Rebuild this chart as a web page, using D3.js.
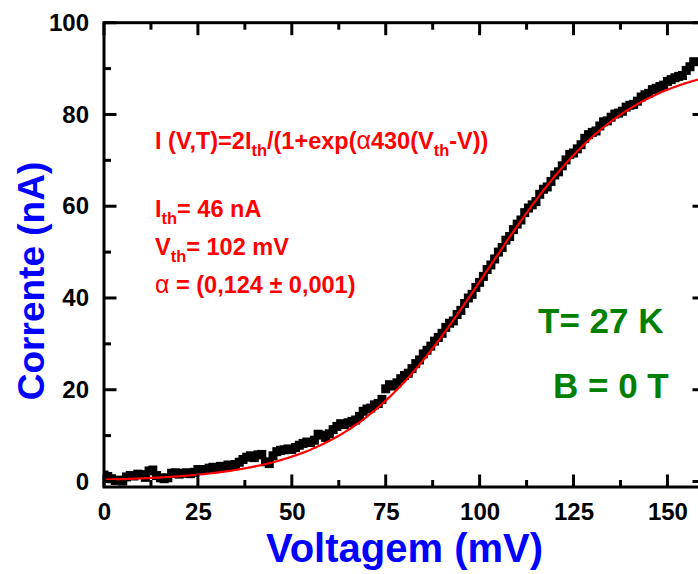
<!DOCTYPE html>
<html>
<head>
<meta charset="utf-8">
<script src="https://cdn.jsdelivr.net/npm/d3@7"></script>
<style>
  body { margin: 0; background: #fff; }
  svg { display: block; }
</style>
</head>
<body>
<svg id="chart" width="698" height="574"></svg>
<script>
// Measured I–V curve (V in mV, I in nA)
const voltage = [
  0, 1, 2, 3, 4, 5, 6, 7, 8, 9, 10, 11, 12, 13, 14, 15, 16, 17, 18, 19,
  20, 21, 22, 23, 24, 25, 26, 27, 28, 29, 30, 31, 32, 33, 34, 35, 36, 37, 38, 39,
  40, 41, 42, 43, 44, 45, 46, 47, 48, 49, 50, 51, 52, 53, 54, 55, 56, 57, 58, 59,
  60, 61, 62, 63, 64, 65, 66, 67, 68, 69, 70, 71, 72, 73, 74, 75, 76, 77, 78, 79,
  80, 81, 82, 83, 84, 85, 86, 87, 88, 89, 90, 91, 92, 93, 94, 95, 96, 97, 98, 99,
  100, 101, 102, 103, 104, 105, 106, 107, 108, 109, 110, 111, 112, 113, 114, 115, 116, 117, 118, 119,
  120, 121, 122, 123, 124, 125, 126, 127, 128, 129, 130, 131, 132, 133, 134, 135, 136, 137, 138, 139,
  140, 141, 142, 143, 144, 145, 146, 147, 148, 149, 150, 151, 152, 153, 154, 155, 156, 157
];
const current = [
  1.4, 1.1, 0.6, 0.2, 0.3, 0.1, 1.0, 1.3, 1.2, 1.6, 1.5, 0.9, 2.3, 2.5, 1.3, 0.8, 0.6, 0.8, 1.8, 1.9,
  1.6, 1.8, 1.9, 1.7, 2.0, 2.6, 2.4, 2.6, 2.9, 3.1, 3.0, 3.3, 3.2, 3.6, 3.4, 3.7, 4.2, 4.8, 5.3, 5.6,
  5.2, 5.8, 5.9, 4.3, 3.9, 5.6, 6.5, 6.8, 6.9, 7.1, 7.0, 7.4, 7.9, 8.3, 8.6, 8.5, 9.0, 10.3, 10.1, 9.6,
  10.4, 11.3, 12.0, 12.6, 12.4, 12.8, 13.1, 13.4, 14.2, 15.3, 15.8, 16.0, 16.7, 17.0, 17.9, 20.2, 21.1, 20.8, 21.5, 22.4,
  23.1, 23.6, 24.6, 25.7, 26.5, 27.8, 28.6, 29.5, 30.6, 31.4, 32.3, 33.6, 34.5, 35.0, 36.4, 37.3, 38.8, 40.0, 40.8, 42.3,
  43.4, 44.7, 46.2, 47.2, 48.5, 50.0, 51.0, 52.6, 53.4, 54.9, 56.1, 57.0, 58.6, 59.6, 60.3, 61.0, 62.6, 63.7, 64.2, 65.4,
  66.8, 67.5, 68.8, 70.1, 71.3, 71.6, 72.5, 73.4, 74.8, 75.6, 76.1, 76.4, 77.5, 78.4, 78.6, 79.4, 80.1, 80.3, 80.7, 81.6,
  82.0, 82.2, 82.9, 83.8, 84.3, 84.6, 85.4, 85.7, 86.1, 86.4, 87.2, 87.6, 88.0, 88.3, 88.5, 89.6, 90.4, 91.5
];

// Fit parameters: I(V) = 2·Ith / (1 + exp(α·430·(Vth − V)))
const fitIth = 46;        // nA
const fitVth = 102;       // mV
const fitAlpha = 0.124;
const fitAlphaErr = 0.001;
const fitFactor = 430;

const xTicks = [0, 25, 50, 75, 100, 125, 150];
const xMinorTicks = [12.5, 37.5, 62.5, 87.5, 112.5, 137.5];
const yTicks = [0, 20, 40, 60, 80, 100];
const yMinorTicks = [10, 30, 50, 70, 90];

const xTitle = "Voltagem (mV)";
const yTitle = "Corrente (nA)";
const tempLabel = "T= 27 K";
const fieldLabel = "B = 0 T";

const FONT = "'Liberation Sans', Arial, Helvetica, sans-serif";

const svg = d3.select("#chart");
svg.append("rect").attr("width", 698).attr("height", 574).attr("fill", "#fff");

const plotLeft = 104, plotRight = 705, plotTop = 22.7, plotBottom = 487;
const x = d3.scaleLinear().domain([0, 160]).range([plotLeft, plotRight]);
const y = d3.scaleLinear().domain([-1.2, 100]).range([plotBottom, plotTop]);

// Clip for plotted marks
svg.append("defs").append("clipPath").attr("id", "plotClip")
  .append("rect").attr("x", plotLeft).attr("y", plotTop)
  .attr("width", plotRight - plotLeft).attr("height", plotBottom - plotTop);

const plot = svg.append("g").attr("clip-path", "url(#plotClip)");

// Data points (black squares)
const sq = 9;
plot.append("g").selectAll("rect")
  .data(voltage.map((v, i) => [v, current[i]]))
  .join("rect")
  .attr("x", d => x(d[0]) - sq / 2)
  .attr("y", d => y(d[1]) - sq / 2)
  .attr("width", sq).attr("height", sq)
  .attr("fill", "#000");

// Fit curve (V converted from mV to V inside the exponent)
const fitCurve = v => 2 * fitIth / (1 + Math.exp(fitAlpha * fitFactor * (fitVth - v) / 1000));
const fitV = d3.range(0, 160.01, 0.5);
plot.append("path")
  .datum(fitV)
  .attr("fill", "none")
  .attr("stroke", "#ff0000")
  .attr("stroke-width", 2.2)
  .attr("d", d3.line().x(v => x(v)).y(v => y(fitCurve(v))));

// Inward-pointing ticks on all four sides
const major = 12.5, minor = 7;
const tickG = svg.append("g").attr("stroke", "#000").attr("stroke-width", 3);
function xTickMarks(values, len) {
  values.forEach(v => {
    tickG.append("line").attr("x1", x(v)).attr("x2", x(v))
      .attr("y1", plotBottom).attr("y2", plotBottom - len);
    tickG.append("line").attr("x1", x(v)).attr("x2", x(v))
      .attr("y1", plotTop).attr("y2", plotTop + len);
  });
}
function yTickMarks(values, len) {
  values.forEach(v => {
    tickG.append("line").attr("y1", y(v)).attr("y2", y(v))
      .attr("x1", plotLeft).attr("x2", plotLeft + len);
    tickG.append("line").attr("y1", y(v)).attr("y2", y(v))
      .attr("x1", plotRight).attr("x2", plotRight - len);
  });
}
xTickMarks(xTicks, major);
xTickMarks(xMinorTicks, minor);
yTickMarks(yTicks, major);
yTickMarks(yMinorTicks, minor);

// Tick labels via d3 axes (tick lines drawn separately above)
function labelAxis(g) {
  g.select(".domain").remove();
  g.selectAll(".tick line").remove();
  g.selectAll("text")
    .attr("font-family", FONT).attr("font-size", 24).attr("font-weight", "bold").attr("fill", "#000");
}
svg.append("g").attr("transform", `translate(0,${plotBottom})`)
  .call(d3.axisBottom(x).tickValues(xTicks).tickSize(0).tickPadding(16).tickFormat(d3.format("d")))
  .call(labelAxis);
svg.append("g").attr("transform", `translate(${plotLeft},0)`)
  .call(d3.axisLeft(y).tickValues(yTicks).tickSize(0).tickPadding(15).tickFormat(d3.format("d")))
  .call(labelAxis);

// Frame
svg.append("rect")
  .attr("x", plotLeft).attr("y", plotTop)
  .attr("width", plotRight - plotLeft).attr("height", plotBottom - plotTop)
  .attr("fill", "none").attr("stroke", "#000").attr("stroke-width", 3);

// Axis titles
svg.append("text")
  .attr("x", (plotLeft + plotRight) / 2).attr("y", 562)
  .attr("text-anchor", "middle")
  .attr("font-family", FONT).attr("font-size", 40).attr("font-weight", "bold")
  .attr("fill", "#0000ff")
  .text(xTitle);

svg.append("text")
  .attr("transform", "translate(44,281) rotate(-90)")
  .attr("text-anchor", "middle")
  .attr("font-family", FONT).attr("font-size", 37).attr("font-weight", "bold")
  .attr("fill", "#0000ff")
  .text(yTitle);

// Fit annotation
const comma = v => String(v).replace(".", ",");
const ann = svg.append("g")
  .attr("font-family", FONT).attr("font-size", 23.5).attr("font-weight", "bold")
  .attr("fill", "#ff0000");

function addLine(yPos, parts) {
  const t = ann.append("text").attr("x", 155).attr("y", yPos);
  parts.forEach(p => {
    const s = t.append("tspan").text(p.t);
    if (p.sub) s.attr("font-size", 16.5).attr("dy", 7);
    if (p.after) s.attr("dy", -7);
    if (p.greek) s.attr("font-weight", "normal").attr("font-size", 25);
  });
}

addLine(149.3, [
  { t: "I (V,T)=2I" }, { t: "th", sub: true }, { t: "/(1+exp(", after: true },
  { t: "\u03b1", greek: true }, { t: fitFactor + "(V" },
  { t: "th", sub: true }, { t: "-V))", after: true }
]);
addLine(216.7, [{ t: "I" }, { t: "th", sub: true }, { t: "= " + fitIth + " nA", after: true }]);
addLine(255, [{ t: "V" }, { t: "th", sub: true }, { t: "= " + fitVth + " mV", after: true }]);
addLine(293.3, [
  { t: "\u03b1", greek: true },
  { t: " = (" + comma(fitAlpha) + " \u00b1 " + comma(fitAlphaErr) + ")" }
]);

// Conditions
const cond = svg.append("g")
  .attr("font-family", FONT).attr("font-size", 35).attr("font-weight", "bold")
  .attr("fill", "#008000");
cond.append("text").attr("x", 538).attr("y", 333).text(tempLabel);
cond.append("text").attr("x", 553).attr("y", 398).text(fieldLabel);
</script>
</body>
</html>
